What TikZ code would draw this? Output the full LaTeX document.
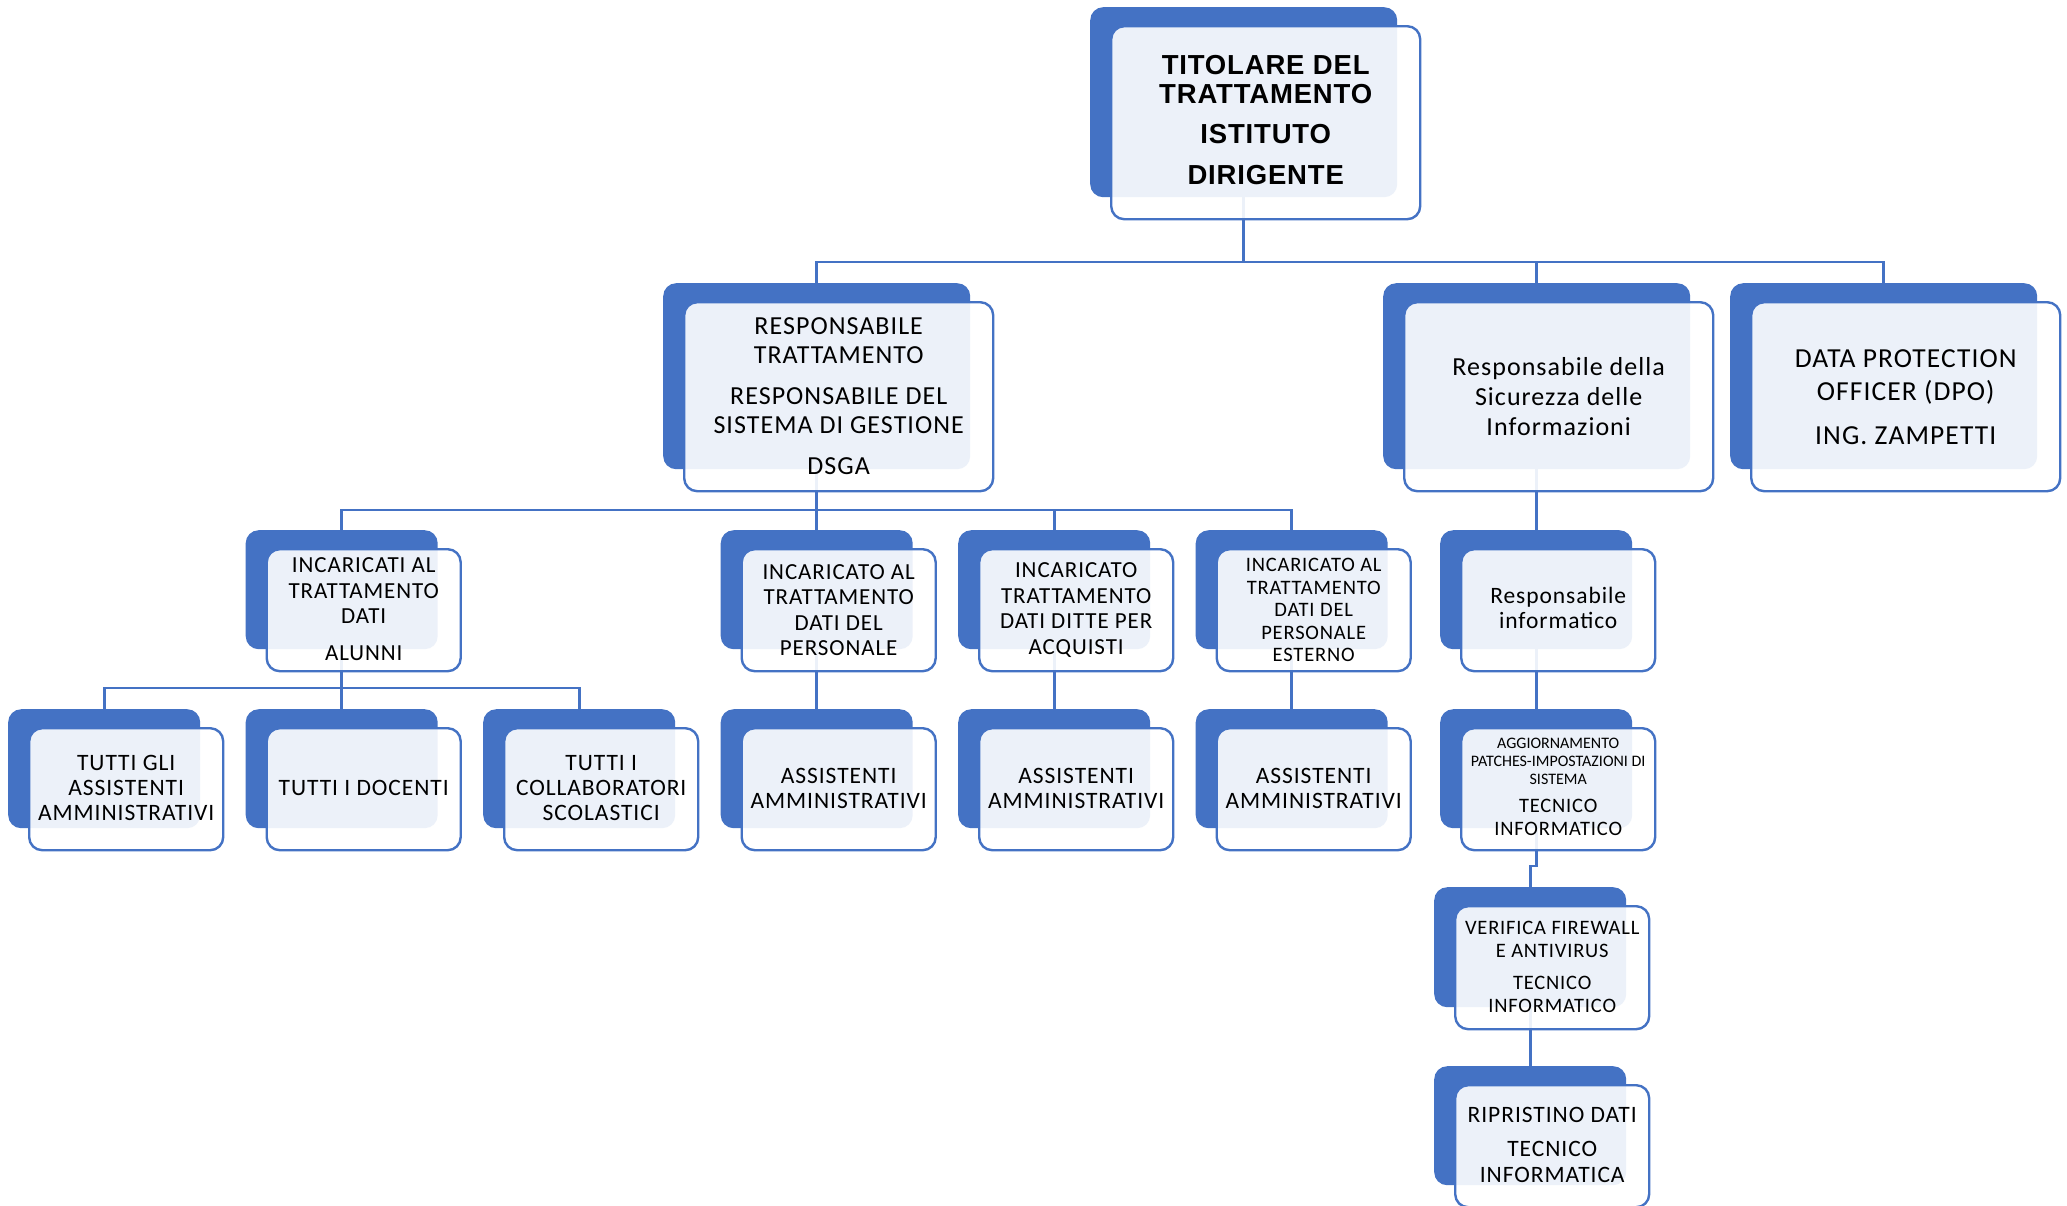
\documentclass[tikz,border=0pt]{standalone}
\usepackage{fontspec}
\setmainfont{Carlito}[LetterSpace=4]
\newfontfamily\plainfont{Carlito}
\newfontfamily\arialfont{Liberation Sans}[LetterSpace=3]
\pgfdeclarelayer{bg}
\pgfsetlayers{bg,main}
\definecolor{acc}{HTML}{4472C4}
\tikzset{
  backbox/.style={draw=none, fill=acc, rounded corners=13pt, inner sep=0pt, anchor=north west},
  frontbox/.style={draw=acc, line width=2.4pt, fill=white, fill opacity=0.9, rounded corners=13pt, inner sep=0pt, anchor=north west},
  lbl/.style={align=center, text=black, inner sep=0pt},
  conn/.style={draw=acc, line width=2.6pt},
}
% #1 name, #2 x, #3 y (top-left of back box), #4 width, #5 height
\newcommand\orgbox[5]{%
  \node[backbox, minimum width=#4, minimum height=#5] (#1b) at (#2,#3) {};
  \node[frontbox, minimum width=#4+2, minimum height=#5+3] (#1f) at (#2+20,#3+18) {};
}
\begin{document}
\begin{tikzpicture}[x=1pt,y=-1pt]
\useasboundingbox (0,0) rectangle (2067,1205);
\begin{scope}
\clip (0,0) rectangle (2067,1205);
% level 1
\orgbox{top}{1090}{7}{307}{190}
\node[lbl, font=\arialfont\bfseries\fontsize{27.5}{29}\selectfont, yshift=2.5pt] (topt) at (topf.center) {TITOLARE DEL\\TRATTAMENTO\\[11pt]ISTITUTO\\[12pt]DIRIGENTE};
% level 2
\orgbox{resp}{663}{283}{307}{186}
\node[lbl, font=\fontsize{26}{29}\selectfont, yshift=1pt] (respt) at (respf.center) {RESPONSABILE\\TRATTAMENTO\\[12pt]RESPONSABILE DEL\\SISTEMA DI GESTIONE\\[12pt]DSGA};
\orgbox{sic}{1383}{283}{307}{186}
\node[lbl, font=\fontsize{26}{30}\selectfont] (sict) at (sicf.center) {Responsabile della\\Sicurezza delle\\Informazioni};
\orgbox{dpo}{1730}{283}{307}{186}
\node[lbl, font=\fontsize{27.5}{33}\selectfont] (dpot) at (dpof.center) {DATA PROTECTION\\OFFICER (DPO)\\[11pt]ING. ZAMPETTI};
% level 3
\orgbox{inca}{245.5}{530}{192}{119}
\node[lbl, font=\fontsize{23}{25.5}\selectfont, yshift=1pt] (incat) at (incaf.center) {INCARICATI AL\\TRATTAMENTO\\DATI\\[11pt]ALUNNI};
\orgbox{incp}{720.5}{530}{192}{119}
\node[lbl, font=\fontsize{23}{25.5}\selectfont] (incpt) at (incpf.center) {INCARICATO AL\\TRATTAMENTO\\DATI DEL\\PERSONALE};
\orgbox{incd}{958}{530}{192}{119}
\node[lbl, font=\fontsize{23}{25.5}\selectfont] (incdt) at (incdf.center) {INCARICATO\\TRATTAMENTO\\DATI DITTE PER\\ACQUISTI};
\orgbox{ince}{1195.5}{530}{192}{119}
\node[lbl, font=\fontsize{20.5}{22.5}\selectfont] (incet) at (incef.center) {INCARICATO AL\\TRATTAMENTO\\DATI DEL\\PERSONALE\\ESTERNO};
\orgbox{rinf}{1440}{530}{192}{119}
\node[lbl, font=\fontsize{23.5}{25}\selectfont, yshift=2.5pt] (rinft) at (rinff.center) {Responsabile\\informatico};
% level 4
\orgbox{tga}{8}{709}{192}{119}
\node[lbl, font=\fontsize{23.5}{25}\selectfont, yshift=1pt] (tgat) at (tgaf.center) {TUTTI GLI\\ASSISTENTI\\AMMINISTRATIVI};
\orgbox{tdo}{245.5}{709}{192}{119}
\node[lbl, font=\fontsize{23.5}{25}\selectfont, yshift=1pt] (tdot) at (tdof.center) {TUTTI I DOCENTI};
\orgbox{tco}{483}{709}{192}{119}
\node[lbl, font=\fontsize{23.5}{25}\selectfont, yshift=1pt] (tcot) at (tcof.center) {TUTTI I\\COLLABORATORI\\SCOLASTICI};
\orgbox{asa}{720.5}{709}{192}{119}
\node[lbl, font=\fontsize{23.5}{25}\selectfont, yshift=1pt] (asat) at (asaf.center) {ASSISTENTI\\AMMINISTRATIVI};
\orgbox{asb}{958}{709}{192}{119}
\node[lbl, font=\fontsize{23.5}{25}\selectfont, yshift=1pt] (asbt) at (asbf.center) {ASSISTENTI\\AMMINISTRATIVI};
\orgbox{asc}{1195.5}{709}{192}{119}
\node[lbl, font=\fontsize{23.5}{25}\selectfont, yshift=1pt] (asct) at (ascf.center) {ASSISTENTI\\AMMINISTRATIVI};
\orgbox{agg}{1440}{709}{192}{119}
\node[lbl, font=\plainfont\fontsize{16}{18}\selectfont, yshift=27.5pt] (aggt) at (aggf.center) {AGGIORNAMENTO\\PATCHES-IMPOSTAZIONI DI\\SISTEMA};
\node[lbl, font=\fontsize{20.5}{23}\selectfont, yshift=-28pt] (aggu) at (aggf.center) {TECNICO\\INFORMATICO};
% level 5
\orgbox{ver}{1434}{887}{192}{120}
\node[lbl, font=\fontsize{20.5}{22.5}\selectfont, yshift=1pt] (vert) at (verf.center) {VERIFICA FIREWALL\\E ANTIVIRUS\\[10pt]TECNICO\\INFORMATICO};
% level 6
\orgbox{rip}{1434}{1066}{192}{119}
\node[lbl, font=\fontsize{23.5}{26.5}\selectfont, yshift=1pt] (ript) at (ripf.center) {RIPRISTINO DATI\\[7pt]TECNICO\\INFORMATICA};
\end{scope}
% connectors
\coordinate (busa) at (0,262);
\coordinate (busb) at (0,510);
\coordinate (busc) at (0,688);
\coordinate (busd) at (0,866);
\begin{pgfonlayer}{bg}
\fill[white] (0,0) rectangle (2067,1205);
\draw[conn] (topb.south) -- (topb.south |- busa) -| (respb.north);
\draw[conn] (topb.south) -- (topb.south |- busa) -| (sicb.north);
\draw[conn] (topb.south) -- (topb.south |- busa) -| (dpob.north);
\draw[conn] (respb.south) -- (respb.south |- busb) -| (incab.north);
\draw[conn] (respb.south) -- (respb.south |- busb) -| (incpb.north);
\draw[conn] (respb.south) -- (respb.south |- busb) -| (incdb.north);
\draw[conn] (respb.south) -- (respb.south |- busb) -| (inceb.north);
\draw[conn] (incab.south) -- (incab.south |- busc) -| (tgab.north);
\draw[conn] (incab.south) -- (incab.south |- busc) -| (tdob.north);
\draw[conn] (incab.south) -- (incab.south |- busc) -| (tcob.north);
\draw[conn] (incpb.south) -- (asab.north);
\draw[conn] (incdb.south) -- (asbb.north);
\draw[conn] (inceb.south) -- (ascb.north);
\draw[conn] (sicb.south) -- (sicb.south |- rinfb.north);
\draw[conn] (rinfb.south) -- (aggb.north);
\draw[conn] (aggb.south) -- (aggb.south |- busd) -| (verb.north);
\draw[conn] (verb.south) -- (ripb.north);
\end{pgfonlayer}
\end{tikzpicture}
\end{document}
